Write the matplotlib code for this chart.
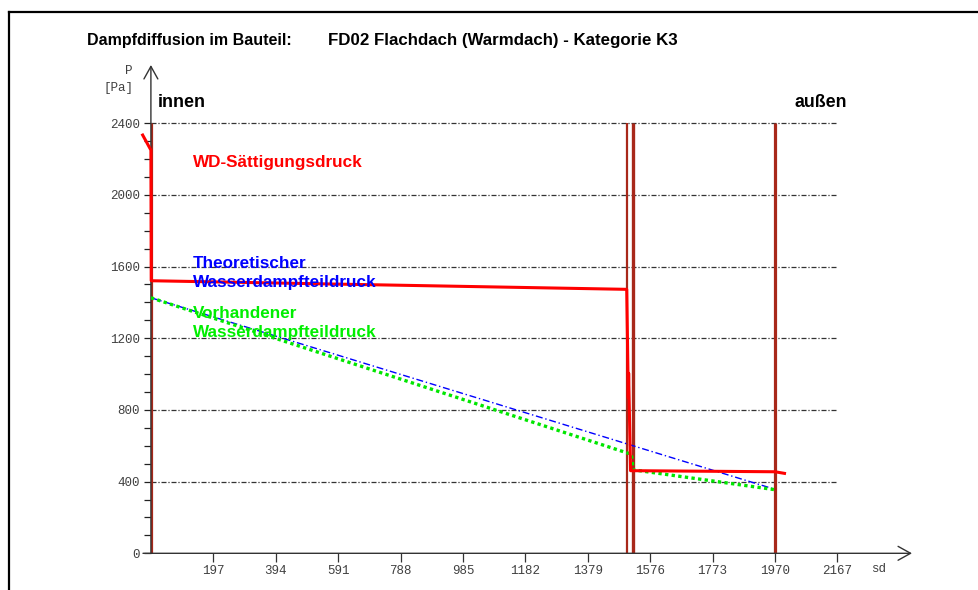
import matplotlib as mlp
import matplotlib.pyplot as plt
from matplotlib.lines import Line2D

mlp.rcParams['font.family'] = ['Liberation Sans', 'DejaVu Sans']

# layer boundaries (sd in cm-equivalent) and curves
layer_sd = [0, 1502, 1521, 1970]
sat_sd = [-26, 0, 1, 1502, 1507, 1508, 1514, 1521, 1970, 2000]
sat_p = [2334, 2250, 1521, 1473, 870, 1005, 461, 461, 455, 446]
theo_sd = [0, 1970]
theo_p = [1426, 357]
act_sd = [0, 1502, 1516, 1519, 1522, 1970]
act_p = [1426, 561, 555, 520, 466, 355]

x_ticks = [197, 394, 591, 788, 985, 1182, 1379, 1576, 1773, 1970, 2167]
y_major = [0, 400, 800, 1200, 1600, 2000, 2400]
y_minor = list(range(0, 2401, 100))

W, H = 979, 590
fig = plt.figure(figsize=(W / 100, H / 100), dpi=100)
x0, x1, y0, y1 = 150.9, 912.0, 553.3, 65.0
ax = fig.add_axes([x0 / W, (H - y0) / H, (x1 - x0) / W, (y0 - y1) / H])
ax.set_xlim(0, (x1 - x0) / 0.3168)
ax.set_ylim(0, (y0 - y1) / 0.1792)
for s in ax.spines.values():
    s.set_visible(False)

# ticks
mono = dict(family='Liberation Mono', size=9, color='#404040')
ax.set_xticks(x_ticks)
ax.set_xticklabels([str(v) for v in x_ticks], fontdict=mono)
ax.set_yticks(y_major)
ax.set_yticklabels([str(v) for v in y_major], fontdict=mono)
ax.set_yticks(y_minor, minor=True)
ax.tick_params(axis='x', direction='out', length=6.5, width=0.9, color='#333333', pad=2)
ax.tick_params(axis='y', which='both', direction='out', length=5, width=0.9, color='#222222', pad=3)

# axis lines with open arrow heads
arr = dict(arrowstyle='->,head_length=0.45,head_width=0.25', lw=1.0, color='#333333',
           shrinkA=0, shrinkB=0, mutation_scale=20)
ax.annotate('', xy=(1, 0), xytext=(-0.0104, 0), xycoords='axes fraction', arrowprops=arr)
ax.annotate('', xy=(0, 1), xytext=(0, 0), xycoords='axes fraction', arrowprops=arr)

# grid
ax.hlines(y_major[1:], 0, 2167, colors='#333333', linewidth=0.9,
          linestyles=[(0, (4, 1.5, 1, 1.5))], zorder=1)

# layer boundaries
widths = [2.3, 1.6, 2.4, 2.3]
for sd, w in zip(layer_sd, widths):
    ax.vlines(sd, 0, 2400, colors='#a8281a', linewidth=w, zorder=2)

ax.plot(theo_sd, theo_p, color='#0000ff', lw=1.0, ls=(0, (5, 2, 1, 2)), zorder=3)
ax.plot(act_sd, act_p, color='#00e600', lw=2.4, ls=(0, (1, 1)), zorder=3)
ax.plot(sat_sd, sat_p, color='#ff0000', lw=2.2, zorder=4, clip_on=False)

# labels
bold = dict(weight='bold', va='center', zorder=5)
ax.text(22, 2513, 'innen', size=13, color='black', **bold)
ax.text(2030, 2513, 'außen', size=12.8, color='black', **bold)
ax.text(133, 2183, 'WD-Sättigungsdruck', size=12.3, color='#ff0000', **bold)
ax.text(133, 1565, 'Theoretischer\nWasserdampfteildruck', size=12.3, color='#0000ff',
        linespacing=1.32, **bold)
ax.text(133, 1285, 'Vorhandener\nWasserdampfteildruck', size=12.3, color='#00ee00',
        linespacing=1.32, **bold)

fig.text(133 / W, (H - 71) / H, 'P', ha='right', va='center', **mono)
fig.text(133 / W, (H - 88) / H, '[Pa]', ha='right', va='center', **mono)
fig.text(871 / W, (H - 569) / H, 'sd', ha='left', va='center', **mono)

fig.text(87 / W, (H - 40) / H, 'Dampfdiffusion im Bauteil:', size=11.5, weight='bold', va='center')
fig.text(328 / W, (H - 40) / H, 'FD02 Flachdach (Warmdach) - Kategorie K3', size=12.2,
         weight='bold', va='center')

# frame
fig.add_artist(Line2D([9 / W, 9 / W], [0, (H - 12) / H], color='black', lw=1.6))
fig.add_artist(Line2D([9 / W, 1], [(H - 12) / H, (H - 12) / H], color='black', lw=1.6))

fig.savefig('out.png', dpi=100)
